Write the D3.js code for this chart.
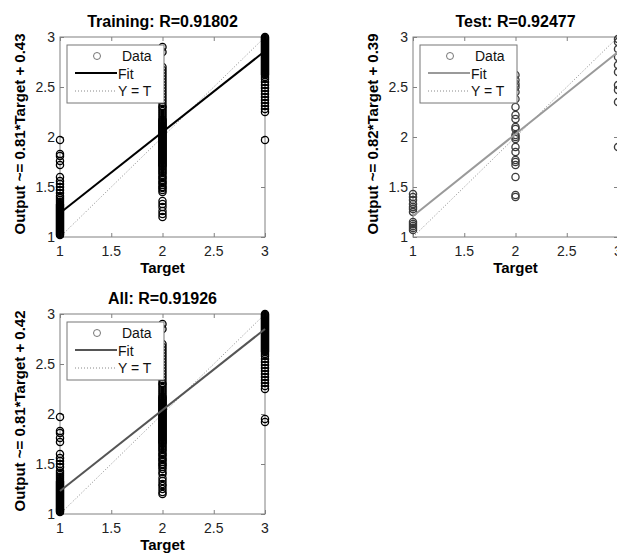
<!DOCTYPE html>
<html>
<head>
<meta charset="utf-8">
<script src="https://cdn.jsdelivr.net/npm/d3@7"></script>
<style>
  body { margin: 0; background: #fff; }
  svg text { font-family: "Liberation Sans", Arial, sans-serif; }
</style>
</head>
<body>
<div id="chart"></div>
<script>
// regression plots, values
const ticks = [1, 1.5, 2, 2.5, 3]
const tickLabels = ['1', '1.5', '2', '2.5', '3']

const trainT1 = [1.02,1.03,1.04,1.05,1.06,1.07,1.08,1.09,1.1,1.11,1.12,1.13,1.14,1.15,1.16,1.17,1.18,1.19,1.2,1.21,1.22,1.23,1.24,1.25,1.26,1.27,1.28,1.29,1.3,1.31,1.32,1.33,1.35,1.37,1.39,1.41,1.44,1.47,1.5,1.53,1.56,1.6,1.72,1.76,1.81,1.83,1.97]
const trainT2 = [1.2,1.23,1.26,1.3,1.33,1.36,1.45,1.47,1.49,1.5,1.52,1.54,1.55,1.57,1.59,1.6,1.62,1.64,1.65,1.67,1.68,1.7,1.71,1.72,1.73,1.74,1.75,1.76,1.77,1.78,1.79,1.8,1.81,1.82,1.83,1.84,1.85,1.86,1.87,1.88,1.89,1.9,1.91,1.92,1.93,1.94,1.95,1.96,1.97,1.98,1.99,2.0,2.01,2.02,2.03,2.04,2.05,2.06,2.07,2.08,2.09,2.1,2.11,2.12,2.13,2.14,2.15,2.16,2.17,2.18,2.2,2.22,2.24,2.26,2.28,2.3,2.31,2.34,2.37,2.4,2.43,2.46,2.49,2.52,2.55,2.58,2.61,2.64,2.67,2.7,2.85,2.9]
const trainT3 = [1.97,2.25,2.28,2.31,2.34,2.37,2.4,2.43,2.46,2.49,2.52,2.55,2.58,2.6,2.62,2.63,2.64,2.65,2.66,2.67,2.68,2.69,2.7,2.71,2.72,2.73,2.74,2.75,2.76,2.77,2.78,2.79,2.8,2.81,2.82,2.83,2.84,2.85,2.86,2.87,2.88,2.89,2.9,2.91,2.92,2.93,2.94,2.95,2.96,2.97,2.98,2.99,3.0]

const testT1 = [1.07,1.09,1.11,1.13,1.15,1.25,1.28,1.3,1.33,1.37,1.4,1.43]
const testT2 = [1.4,1.42,1.6,1.72,1.75,1.77,1.85,1.9,1.98,2.0,2.02,2.08,2.1,2.18,2.22,2.3,2.38,2.45,2.5,2.53,2.57,2.62]
const testT3 = [1.9,2.35,2.47,2.52,2.65,2.72,2.8,2.88,2.95,2.98]

const allT1 = [1.02,1.03,1.04,1.05,1.06,1.07,1.08,1.09,1.1,1.11,1.12,1.13,1.14,1.15,1.16,1.17,1.18,1.19,1.2,1.21,1.22,1.23,1.24,1.25,1.26,1.27,1.28,1.29,1.3,1.31,1.32,1.33,1.35,1.37,1.39,1.41,1.43,1.47,1.5,1.53,1.56,1.6,1.72,1.76,1.81,1.83,1.97]
const allT2 = [1.2,1.22,1.25,1.28,1.3,1.33,1.36,1.4,1.42,1.45,1.47,1.49,1.5,1.52,1.54,1.55,1.57,1.59,1.6,1.62,1.64,1.65,1.67,1.68,1.7,1.71,1.72,1.73,1.74,1.75,1.76,1.77,1.78,1.79,1.8,1.81,1.82,1.83,1.84,1.85,1.86,1.87,1.88,1.89,1.9,1.91,1.92,1.93,1.94,1.95,1.96,1.97,1.98,1.99,2.0,2.01,2.02,2.03,2.04,2.05,2.06,2.07,2.08,2.09,2.1,2.11,2.12,2.13,2.14,2.15,2.16,2.17,2.18,2.2,2.22,2.24,2.26,2.28,2.3,2.31,2.34,2.37,2.4,2.43,2.46,2.49,2.52,2.55,2.58,2.61,2.64,2.67,2.7,2.85,2.9]
const allT3 = [1.92,1.95,2.25,2.28,2.31,2.34,2.37,2.4,2.43,2.46,2.49,2.52,2.55,2.58,2.6,2.62,2.63,2.64,2.65,2.66,2.67,2.68,2.69,2.7,2.71,2.72,2.73,2.74,2.75,2.76,2.77,2.78,2.79,2.8,2.81,2.82,2.83,2.84,2.85,2.86,2.87,2.88,2.89,2.9,2.91,2.92,2.93,2.94,2.95,2.96,2.97,2.98,2.99,3.0]

const panels = [
  { title: 'Training: R=0.91802', ylabel: 'Output ~= 0.81*Target + 0.43', slope: 0.81, icpt: 0.43,
    data: [trainT1, trainT2, trainT3], left: 60, top: 37, fit: '#000', dot: '#000' },
  { title: 'Test: R=0.92477', ylabel: 'Output ~= 0.82*Target + 0.39', slope: 0.82, icpt: 0.39,
    data: [testT1, testT2, testT3], left: 413, top: 37, fit: '#9a9a9a', dot: '#3a3a3a' },
  { title: 'All: R=0.91926', ylabel: 'Output ~= 0.81*Target + 0.42', slope: 0.81, icpt: 0.42,
    data: [allT1, allT2, allT3], left: 60, top: 314, fit: '#555', dot: '#000' }
]

const W = 205, H = 200

const svg = d3.select('#chart').append('svg')
  .attr('width', 617)
  .attr('height', 554)

panels.forEach(p => {
  const g = svg.append('g').attr('transform', `translate(${p.left},${p.top})`)
  const x = d3.scaleLinear().domain([1, 3]).range([0, W])
  const y = d3.scaleLinear().domain([1, 3]).range([H, 0])

  // box
  g.append('rect')
    .attr('width', W).attr('height', H)
    .attr('fill', 'none').attr('stroke', '#808080').attr('stroke-width', 1)

  // inner tick marks on all four sides
  const tk = 4
  g.append('g').call(d3.axisBottom(x).tickValues(ticks).tickSize(-tk).tickFormat(''))
    .attr('transform', `translate(0,${H})`)
  g.append('g').call(d3.axisTop(x).tickValues(ticks).tickSize(-tk).tickFormat(''))
  g.append('g').call(d3.axisLeft(y).tickValues(ticks).tickSize(-tk).tickFormat(''))
  g.append('g').call(d3.axisRight(y).tickValues(ticks).tickSize(-tk).tickFormat(''))
    .attr('transform', `translate(${W},0)`)
  g.selectAll('.domain').remove()
  g.selectAll('.tick line').attr('stroke', '#808080')

  // tick labels
  g.selectAll('.xl').data(ticks).enter().append('text')
    .attr('x', d => x(d)).attr('y', H + 19)
    .attr('text-anchor', 'middle').attr('font-size', 14).attr('fill', '#222')
    .text((d, i) => tickLabels[i])
  g.selectAll('.yl').data(ticks).enter().append('text')
    .attr('x', -5).attr('y', d => y(d) + 5)
    .attr('text-anchor', 'end').attr('font-size', 14).attr('fill', '#222')
    .text((d, i) => tickLabels[i])

  // title and labels
  g.append('text').attr('x', W / 2).attr('y', -10)
    .attr('text-anchor', 'middle').attr('font-size', 16).attr('font-weight', 'bold')
    .text(p.title)
  g.append('text').attr('x', W / 2).attr('y', H + 36)
    .attr('text-anchor', 'middle').attr('font-size', 15).attr('font-weight', 'bold')
    .text('Target')
  g.append('text')
    .attr('transform', `translate(-35,${H / 2 - 3}) rotate(-90)`)
    .attr('text-anchor', 'middle').attr('font-size', 15).attr('font-weight', 'bold')
    .text(p.ylabel)

  // Y = T
  g.append('line')
    .attr('x1', x(1)).attr('y1', y(1)).attr('x2', x(3)).attr('y2', y(3))
    .attr('stroke', '#888').attr('stroke-width', 1).attr('stroke-dasharray', '1,2')

  // data circles
  p.data.forEach((vals, i) => {
    g.selectAll(null).data(vals).enter().append('circle')
      .attr('cx', x(i + 1)).attr('cy', d => y(d)).attr('r', 3.6)
      .attr('fill', 'none').attr('stroke', p.dot).attr('stroke-width', 1.3)
  })

  // fit line
  g.append('line')
    .attr('x1', x(1)).attr('y1', y(p.slope * 1 + p.icpt))
    .attr('x2', x(3)).attr('y2', y(p.slope * 3 + p.icpt))
    .attr('stroke', p.fit).attr('stroke-width', 2)

  // legend
  const lg = g.append('g').attr('transform', 'translate(7,8)')
  lg.append('rect').attr('width', 97).attr('height', 58)
    .attr('fill', '#fff').attr('stroke', '#777')
  lg.append('circle').attr('cx', 30).attr('cy', 11).attr('r', 3.5)
    .attr('fill', 'none').attr('stroke', '#666').attr('stroke-width', 0.9)
  lg.append('line').attr('x1', 8).attr('x2', 50).attr('y1', 28).attr('y2', 28)
    .attr('stroke', p.fit).attr('stroke-width', 2)
  lg.append('line').attr('x1', 8).attr('x2', 50).attr('y1', 46).attr('y2', 46)
    .attr('stroke', '#888').attr('stroke-width', 1).attr('stroke-dasharray', '1,2')
  const labels = ['Data', 'Fit', 'Y = T']
  lg.selectAll('.lt').data(labels).enter().append('text')
    .attr('x', (d, i) => i === 0 ? 55 : 51).attr('y', (d, i) => 16 + i * 17.5)
    .attr('font-size', 14).attr('fill', '#111')
    .text(d => d)
})
</script>
</body>
</html>
